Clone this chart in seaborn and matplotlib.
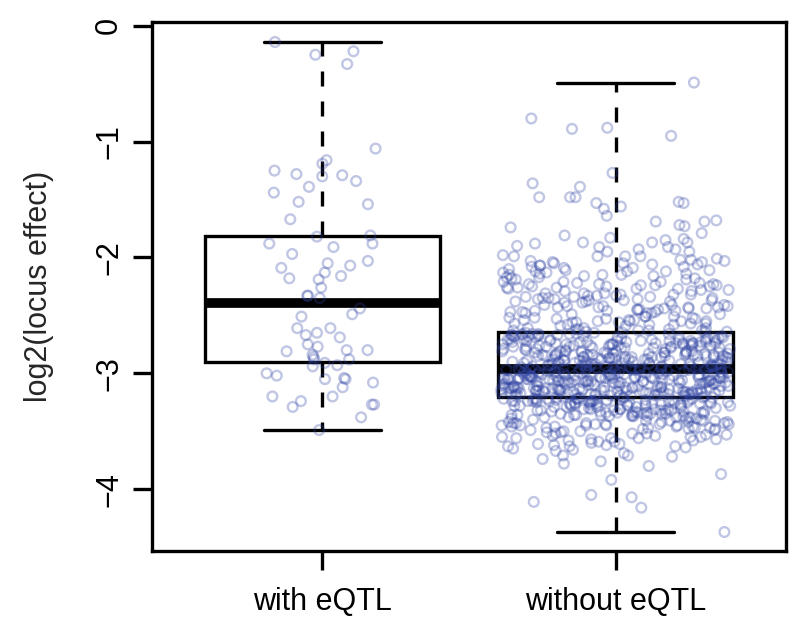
# boxplot of locus effect with / without eQTL, with jittered points on top

import numpy as np
import pandas as pd
import matplotlib
matplotlib.use("Agg")
import matplotlib.pyplot as plt
import seaborn as sns

groups = ["with eQTL", "without eQTL"]
y_ticks = [0, -1, -2, -3, -4]

# log2(locus effect) values
with_eqtl = [
    -0.14, -0.22, -0.25, -0.33, -1.06, -1.16, -1.19, -1.25, -1.28, -1.30, -1.29, -1.34, -1.39, -1.44, -1.52, -1.54, -1.67,
    -1.82, -1.81, -1.88, -1.91, -1.88, -1.97, -2.05, -2.03, -2.09, -2.13, -2.07, -2.16, -2.19, -2.18, -2.26, -2.33, -2.35, -2.33,
    -2.44, -2.49, -2.51, -2.61, -2.61, -2.65, -2.67, -2.69, -2.75, -2.77, -2.80, -2.84, -2.80, -2.81, -2.88, -2.86, -2.88,
    -2.93, -2.91, -2.94, -3.00, -3.02, -3.05, -3.05, -3.04, -3.08, -3.12, -3.20, -3.24, -3.20, -3.29, -3.27, -3.27, -3.38, -3.49,
]

# without eQTL: sparse points above the box
without_top = [
    -0.49, -0.80, -0.89, -0.88, -0.95, -1.27, -1.36, -1.39, -1.48, -1.48, -1.48, -1.53, -1.58, -1.52, -1.53, -1.56,
    -1.64, -1.72, -1.69, -1.69, -1.73, -1.68, -1.74, -1.79, -1.81, -1.83, -1.84, -1.85, -1.88, -1.87, -1.90, -1.87,
    -1.87, -1.91, -1.93, -1.91, -1.95, -1.93, -1.98, -1.99, -1.95, -1.99, -1.99, -1.99, -2.02, -2.01,
]

# without eQTL: -2.0 down to the top of the box
without_upper = [
    -2.03, -2.05, -2.06, -2.08, -2.04, -2.09, -2.07, -2.02, -2.06, -2.10, -2.05, -2.08, -2.03, -2.09, -2.07, -2.04,
    -2.11, -2.13, -2.15, -2.12, -2.18, -2.14, -2.16, -2.19, -2.12, -2.17, -2.15, -2.11, -2.14, -2.18, -2.13, -2.16,
    -2.19, -2.12, -2.17, -2.15,
    -2.21, -2.23, -2.25, -2.22, -2.27, -2.24, -2.28, -2.26, -2.21, -2.29, -2.23, -2.25, -2.27, -2.22, -2.24, -2.28,
    -2.26, -2.21, -2.29, -2.23, -2.25, -2.27, -2.24, -2.26,
    -2.31, -2.33, -2.35, -2.32, -2.37, -2.34, -2.38, -2.36, -2.31, -2.39, -2.33, -2.35, -2.37, -2.32, -2.34, -2.38,
    -2.36, -2.31, -2.39, -2.33, -2.35, -2.37, -2.34, -2.36, -2.32, -2.38,
    -2.41, -2.43, -2.45, -2.42, -2.47, -2.44, -2.48, -2.46, -2.41, -2.49, -2.43, -2.45, -2.47, -2.42, -2.44, -2.48,
    -2.46, -2.41, -2.49, -2.43, -2.45, -2.47, -2.44, -2.46, -2.42, -2.48, -2.45, -2.43,
    -2.51, -2.53, -2.55, -2.52, -2.57, -2.54, -2.58, -2.56, -2.51, -2.59, -2.53, -2.55, -2.57, -2.52, -2.54, -2.58,
    -2.56, -2.51, -2.59, -2.53, -2.55, -2.57, -2.54, -2.56, -2.52, -2.58, -2.55,
    -2.61, -2.63, -2.62, -2.64, -2.61, -2.63, -2.62, -2.64, -2.61, -2.63, -2.62, -2.64, -2.63,
]

# without eQTL: upper half of the box
without_box_hi = [
    -2.66, -2.68, -2.67, -2.69, -2.65, -2.68, -2.66, -2.70, -2.67, -2.69, -2.66, -2.68, -2.65, -2.67, -2.69, -2.68,
    -2.66, -2.70, -2.67, -2.65, -2.69, -2.66, -2.68, -2.67, -2.70, -2.66, -2.69, -2.68,
    -2.71, -2.74, -2.72, -2.77, -2.75, -2.79, -2.73, -2.76, -2.78, -2.71, -2.75, -2.72, -2.78, -2.74, -2.76, -2.73,
    -2.79, -2.71, -2.77, -2.75, -2.72, -2.76, -2.74, -2.78, -2.73, -2.71, -2.77, -2.75, -2.79, -2.72, -2.74, -2.76,
    -2.73, -2.78, -2.71, -2.75, -2.77, -2.72, -2.79, -2.74, -2.76, -2.73, -2.78, -2.75, -2.71, -2.77, -2.72, -2.74,
    -2.76, -2.79, -2.73, -2.75, -2.78, -2.71, -2.76, -2.74, -2.72, -2.77,
    -2.81, -2.84, -2.82, -2.87, -2.85, -2.89, -2.83, -2.86, -2.88, -2.81, -2.85, -2.82, -2.88, -2.84, -2.86, -2.83,
    -2.89, -2.81, -2.87, -2.85, -2.82, -2.86, -2.84, -2.88, -2.83, -2.81, -2.87, -2.85, -2.89, -2.82, -2.84, -2.86,
    -2.83, -2.88, -2.81, -2.85, -2.87, -2.82, -2.89, -2.84, -2.86, -2.83, -2.88, -2.85, -2.81, -2.87, -2.82, -2.84,
    -2.86, -2.89, -2.83, -2.85, -2.88, -2.81, -2.86, -2.84, -2.82, -2.87, -2.80, -2.85, -2.83, -2.88, -2.86, -2.80,
    -2.91, -2.93, -2.95, -2.92, -2.94, -2.96, -2.90, -2.93, -2.95, -2.91, -2.94, -2.92, -2.96, -2.93, -2.90, -2.95,
    -2.92, -2.94, -2.91, -2.96, -2.93, -2.95, -2.92, -2.90, -2.94, -2.96, -2.91, -2.93, -2.95, -2.92, -2.94, -2.90,
    -2.96, -2.93, -2.91, -2.95, -2.92, -2.94, -2.96, -2.91, -2.93, -2.95, -2.90, -2.92, -2.94, -2.96, -2.93, -2.91,
    -2.95, -2.92,
]

# without eQTL: lower half of the box
without_box_lo = [
    -2.97, -2.99, -2.98, -3.00, -2.97, -2.98, -2.99, -2.97, -3.00, -2.98, -2.99, -2.97, -2.98, -3.00, -2.99, -2.97,
    -2.98, -2.99, -3.00, -2.97, -2.98, -2.99, -2.97, -3.00, -2.98, -2.99, -2.97, -2.98, -3.00, -2.99,
    -3.01, -3.04, -3.02, -3.07, -3.05, -3.09, -3.03, -3.06, -3.08, -3.01, -3.05, -3.02, -3.08, -3.04, -3.06, -3.03,
    -3.09, -3.01, -3.07, -3.05, -3.02, -3.06, -3.04, -3.08, -3.03, -3.01, -3.07, -3.05, -3.09, -3.02, -3.04, -3.06,
    -3.03, -3.08, -3.01, -3.05, -3.07, -3.02, -3.09, -3.04, -3.06, -3.03, -3.08, -3.05, -3.01, -3.07, -3.02, -3.04,
    -3.06, -3.09, -3.03, -3.05, -3.08, -3.01, -3.06, -3.04, -3.02, -3.07, -3.10, -3.05, -3.03, -3.08, -3.06, -3.10,
    -3.02, -3.04, -3.07, -3.01, -3.09, -3.05, -3.06, -3.03, -3.08, -3.02, -3.04, -3.10, -3.07, -3.01, -3.05, -3.09,
    -3.03, -3.06, -3.02, -3.08, -3.04, -3.07,
    -3.11, -3.14, -3.12, -3.17, -3.15, -3.19, -3.13, -3.16, -3.18, -3.11, -3.15, -3.12, -3.18, -3.14, -3.16, -3.13,
    -3.19, -3.11, -3.17, -3.15, -3.12, -3.16, -3.14, -3.18, -3.13, -3.11, -3.17, -3.15, -3.19, -3.12, -3.14, -3.16,
    -3.13, -3.18, -3.11, -3.15, -3.17, -3.12, -3.19, -3.14, -3.16, -3.13, -3.18, -3.15, -3.11, -3.17, -3.12, -3.14,
    -3.16, -3.19, -3.13, -3.15, -3.18, -3.11, -3.16, -3.14, -3.12, -3.17, -3.20, -3.15, -3.13, -3.18, -3.16, -3.20,
    -3.12, -3.14, -3.17, -3.11, -3.19, -3.15, -3.16, -3.13, -3.18, -3.12, -3.14, -3.20, -3.17, -3.11, -3.15, -3.19,
    -3.13, -3.16, -3.12, -3.18,
]

# without eQTL: below the box
without_lower = [
    -3.21, -3.24, -3.22, -3.27, -3.25, -3.29, -3.23, -3.26, -3.28, -3.21, -3.25, -3.22, -3.28, -3.24, -3.26, -3.23,
    -3.29, -3.21, -3.27, -3.25, -3.22, -3.26, -3.24, -3.28, -3.23, -3.21, -3.27, -3.25, -3.29, -3.22, -3.24, -3.26,
    -3.23, -3.28, -3.21, -3.25, -3.27, -3.22, -3.30, -3.24, -3.26, -3.23, -3.28, -3.25, -3.21, -3.27, -3.22, -3.24,
    -3.26, -3.30, -3.23, -3.25, -3.28, -3.21, -3.26, -3.24, -3.22, -3.27, -3.29, -3.25, -3.23, -3.28, -3.26, -3.30,
    -3.22, -3.24,
    -3.31, -3.34, -3.32, -3.37, -3.35, -3.39, -3.33, -3.36, -3.38, -3.31, -3.35, -3.32, -3.38, -3.34, -3.36, -3.33,
    -3.39, -3.31, -3.37, -3.35, -3.32, -3.36, -3.34, -3.38, -3.33, -3.31, -3.37, -3.35, -3.40, -3.32, -3.34, -3.36,
    -3.33, -3.38, -3.31, -3.35, -3.37, -3.32, -3.40, -3.34, -3.36, -3.33, -3.38, -3.35, -3.31, -3.37, -3.32, -3.34,
    -3.39, -3.36,
    -3.41, -3.44, -3.42, -3.47, -3.45, -3.49, -3.43, -3.46, -3.48, -3.41, -3.45, -3.42, -3.48, -3.44, -3.46, -3.43,
    -3.50, -3.41, -3.47, -3.45, -3.42, -3.46, -3.44, -3.49, -3.43, -3.41, -3.47, -3.45, -3.50, -3.42, -3.44, -3.46,
    -3.43, -3.48, -3.45, -3.47,
    -3.51, -3.54, -3.52, -3.57, -3.55, -3.59, -3.53, -3.56, -3.58, -3.51, -3.55, -3.52, -3.58, -3.54, -3.56, -3.53,
    -3.60, -3.57, -3.55, -3.59, -3.52, -3.56,
    -3.61, -3.63, -3.62, -3.65, -3.63, -3.61, -3.67, -3.64, -3.62, -3.69, -3.66, -3.63,
    -3.71, -3.72, -3.74, -3.76, -3.80, -3.87, -3.71, -4.05, -4.07, -4.11, -4.16, -4.37, -3.78, -3.92,
]

without_eqtl = without_top + without_upper + without_box_hi + without_box_lo + without_lower

df = pd.DataFrame({
    "group": [groups[0]] * len(with_eqtl) + [groups[1]] * len(without_eqtl),
    "value": with_eqtl + without_eqtl,
})

sns.set_style("white")
plt.rcParams["font.family"] = ["Liberation Sans", "DejaVu Sans"]

fig = plt.figure(figsize=(8, 6.28), dpi=100)
ax = fig.add_axes([0.19, 0.1226, 0.7925, 0.8424])

lw = 2.4

# boxes, whiskers to min / max like the R default range=0 call
sns.boxplot(
    data=df, x="group", y="value", order=groups,
    width=0.8, whis=(0, 100), showfliers=False,
    color="white", linecolor="black", linewidth=lw,
    medianprops=dict(linewidth=7),
    whiskerprops=dict(linewidth=lw, linestyle=(0, (4.5, 4.5))),
    capprops=dict(linewidth=lw),
    ax=ax,
)

# jittered points, narrower jitter for the small group
np.random.seed(7)
pt_color = "#3044a4"
for g, jit in zip(groups, [0.19, 0.39]):
    sns.stripplot(
        data=df[df["group"] == g], x="group", y="value", order=groups,
        jitter=jit, size=7, marker="o",
        facecolors="none", edgecolor=pt_color, linewidth=1.7, alpha=0.3,
        ax=ax, zorder=3,
    )

ax.set_xlim(-0.58, 1.58)
ax.set_ylim(-4.534, 0.033)
ax.set_yticks(y_ticks)
ax.set_xlabel("")
ax.set_ylabel("log2(locus effect)", fontsize=22)
ax.yaxis.set_label_coords(-0.155, 0.5)

ax.tick_params(axis="both", direction="out", length=14, width=lw, labelsize=22,
               colors="black", bottom=True, left=True)
ax.tick_params(axis="y", pad=6)
ax.tick_params(axis="x", pad=12)
for lab in ax.get_yticklabels():
    lab.set_rotation(90)
    lab.set_va("center")

for sp in ax.spines.values():
    sp.set_visible(True)
    sp.set_linewidth(lw)
    sp.set_color("black")

plt.savefig("out.png", dpi=100)
